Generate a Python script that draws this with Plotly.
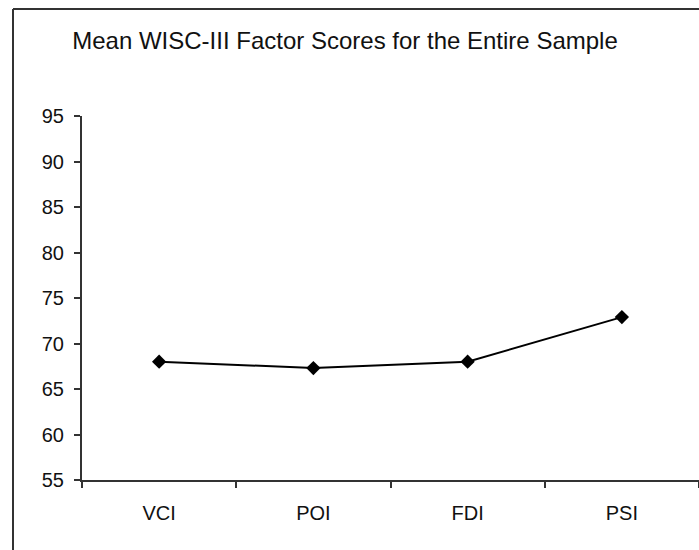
import plotly.graph_objects as go

categories = ["VCI", "POI", "FDI", "PSI"]
scores = [68.0, 67.3, 68.0, 72.9]
y_ticks = [55, 60, 65, 70, 75, 80, 85, 90, 95]
title_text = "Mean WISC-III Factor Scores for the Entire Sample"

W, H = 699, 550
L, R, T, B = 82, 0, 116, 70
pw, ph = W - L - R, H - T - B

fig = go.Figure()
fig.add_trace(go.Scatter(
    x=categories, y=scores, mode="lines+markers",
    line=dict(color="black", width=2),
    marker=dict(symbol="diamond", size=11, color="black"),
    showlegend=False,
))

font = "Liberation Sans, Arial, sans-serif"
fig.update_layout(
    width=W, height=H,
    margin=dict(l=L, r=R, t=T, b=B),
    paper_bgcolor="white", plot_bgcolor="white",
    title=dict(text=title_text, x=345 / W, xanchor="center", xref="container",
               y=1 - 41 / H, yanchor="middle", yref="container",
               font=dict(family=font, size=24, color="#111")),
    xaxis=dict(type="category", range=[-0.5, 3.5], showgrid=False, zeroline=False,
               showline=True, linecolor="#333", linewidth=2,
               ticks="outside", ticklen=6, tickcolor="#333", tickwidth=2,
               tickson="boundaries", ticklabelstandoff=14,
               tickfont=dict(family=font, size=20, color="#111")),
    yaxis=dict(range=[55, 95], tickvals=y_ticks, showgrid=False, zeroline=False,
               showline=True, linecolor="#333", linewidth=2,
               ticks="outside", ticklen=6, tickcolor="#333", tickwidth=2,
               ticklabelstandoff=6,
               tickfont=dict(family=font, size=20, color="#111")),
)

# outer frame: only left and top edges are visible in the picture
fx0 = (13 - L) / pw
fx1 = 1.0
fy_top = 1 + (T - 9) / ph
fy_bot = -(H - T - ph) / ph
frame = dict(color="#333", width=2)
fig.add_shape(type="line", xref="paper", yref="paper", x0=fx0, x1=fx0, y0=fy_bot, y1=fy_top, line=frame)
fig.add_shape(type="line", xref="paper", yref="paper", x0=fx0, x1=fx1, y0=fy_top, y1=fy_top, line=frame)

fig.write_html("out.html", config={"displayModeBar": False},
               post_script="document.body.style.margin='0';document.body.style.overflow='hidden';")
